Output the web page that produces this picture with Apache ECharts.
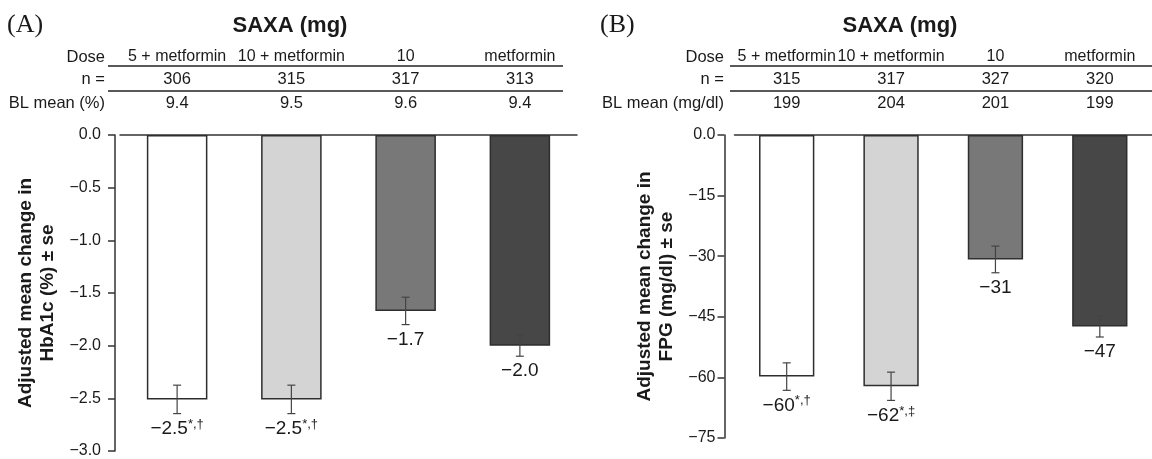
<!DOCTYPE html>
<html><head><meta charset="utf-8">
<script src="https://cdn.jsdelivr.net/npm/echarts@6/dist/echarts.min.js"></script>
<style>html,body{margin:0;padding:0;background:#fff}#c{width:1152px;height:459px}</style>
</head><body><div id="c"></div>
<script>
// ---- data ----
const doseLabels = ['5 + metformin', '10 + metformin', '10', 'metformin'];
const nA = ['306', '315', '317', '313'];
const blA = ['9.4', '9.5', '9.6', '9.4'];
const hba1cMean = [-2.51, -2.51, -1.67, -2.00];
const hba1cSE = [0.135, 0.135, 0.13, 0.10];
const hba1cLabel = ['\u22122.5', '\u22122.5', '\u22121.7', '\u22122.0'];
const hba1cMark = ['*,\u2020', '*,\u2020', '', ''];
const nB = ['315', '317', '327', '320'];
const blB = ['199', '204', '201', '199'];
const fpgMean = [-59.8, -62.2, -30.8, -47.4];
const fpgSE = [3.4, 3.5, 3.3, 2.6];
const fpgLabel = ['\u221260', '\u221262', '\u221231', '\u221247'];
const fpgMark = ['*,\u2020', '*,\u2021', '', ''];
const yTicksA = { min: -3, max: 0, interval: 0.5 };
const yTicksB = { min: -75, max: 0, interval: 15 };
const barColors = ['#ffffff', '#d4d4d4', '#787878', '#474747'];

const F = "'Liberation Sans', Arial, sans-serif";
const TXT = '#1a1a1a';
const chart = echarts.init(document.getElementById('c'), null, { renderer: 'canvas' });

const grids = [
  { left: 120, top: 135, width: 457, height: 317 },
  { left: 734.5, top: 135, width: 436, height: 303 }
];
const rowY = { dose: 57, n: 79.5, bl: 103 };

function headerAxis(gi, labels, y, fs) {
  return {
    type: 'category', gridIndex: gi, position: 'top', data: labels,
    offset: grids[gi].top - y,
    axisLine: { show: false }, axisTick: { show: false },
    axisLabel: { interval: 0, margin: 0, verticalAlign: 'middle', fontFamily: F, fontSize: fs, color: TXT }
  };
}
function mainX(gi) {
  return {
    type: 'category', gridIndex: gi, position: 'top', data: doseLabels,
    axisLine: { onZero: false, lineStyle: { color: '#333', width: 1.5 } },
    axisTick: { inside: true, length: 6, interval: 0, lineStyle: { color: '#333', width: 1.5 } },
    axisLabel: { show: false }
  };
}
function yAx(gi, t, fmt, name, gap, off, margin) {
  return {
    type: 'value', gridIndex: gi, min: t.min, max: t.max, interval: t.interval,
    offset: off,
    name: name, nameLocation: 'middle', nameGap: gap, nameRotate: 90,
    nameTextStyle: { fontFamily: F, fontSize: 19, fontWeight: 'bold', color: TXT, lineHeight: 22 },
    axisLine: { show: true, lineStyle: { color: '#333', width: 1.5 } },
    axisTick: { show: true, length: 7, lineStyle: { color: '#333', width: 1.5 } },
    splitLine: { show: false },
    axisLabel: { formatter: fmt, fontFamily: F, fontSize: 16, color: TXT, margin: margin }
  };
}
const fmtA = v => v === 0 ? '0.0' : v.toFixed(1).replace('-', '\u2212');
const fmtB = v => v === 0 ? '0.0' : String(v).replace('-', '\u2212');

function barSeries(gi, means) {
  return {
    type: 'bar', xAxisIndex: gi * 4, yAxisIndex: gi, barWidth: '53%',
    data: means.map((m, i) => ({ value: m, itemStyle: { color: barColors[i] } })),
    itemStyle: { borderColor: '#2e2e2e', borderWidth: 1.5 },
    animation: false, silent: true
  };
}
function errSeries(gi, means, ses, labels, marks) {
  return {
    type: 'custom', xAxisIndex: gi * 4, yAxisIndex: gi, animation: false, silent: true, z: 5,
    data: means.map((m, i) => [i, m, ses[i]]),
    renderItem: function (params, api) {
      const i = api.value(0), m = api.value(1), se = api.value(2);
      const top = api.coord([i, m + se]);
      const bot = api.coord([i, m - se]);
      const c = 4;
      const st = { stroke: '#444', lineWidth: 1.2 };
      const mk = marks[i] ? '{s|' + marks[i] + '}' : '';
      return {
        type: 'group', children: [
          { type: 'line', shape: { x1: top[0], y1: top[1], x2: bot[0], y2: bot[1] }, style: st },
          { type: 'line', shape: { x1: top[0] - c, y1: top[1], x2: top[0] + c, y2: top[1] }, style: st },
          { type: 'line', shape: { x1: bot[0] - c, y1: bot[1], x2: bot[0] + c, y2: bot[1] }, style: st },
          { type: 'text', x: bot[0], y: bot[1] + 15, style: {
              text: '{v|' + labels[i] + '}' + mk, align: 'center', verticalAlign: 'middle',
              rich: {
                v: { fontFamily: F, fontSize: 19, fill: TXT, lineHeight: 22 },
                s: { fontFamily: F, fontSize: 13, fill: TXT, verticalAlign: 'top', lineHeight: 22 }
              }
            } }
        ]
      };
    }
  };
}

const option = {
  backgroundColor: '#fff',
  animation: false,
  grid: grids,
  xAxis: [
    mainX(0), headerAxis(0, doseLabels, rowY.dose, 16), headerAxis(0, nA, rowY.n, 16.5), headerAxis(0, blA, rowY.bl, 16.5),
    mainX(1), headerAxis(1, doseLabels, rowY.dose, 16), headerAxis(1, nB, rowY.n, 16.5), headerAxis(1, blB, rowY.bl, 16.5)
  ],
  yAxis: [
    yAx(0, yTicksA, fmtA, 'Adjusted mean change in\nHbA1c (%) \u00b1 se', 56, 5, 14),
    yAx(1, yTicksB, fmtB, 'Adjusted mean change in\nFPG (mg/dl) \u00b1 se', 47, 10, 9)
  ],
  series: [
    barSeries(0, hba1cMean), errSeries(0, hba1cMean, hba1cSE, hba1cLabel, hba1cMark),
    barSeries(1, fpgMean), errSeries(1, fpgMean, fpgSE, fpgLabel, fpgMark)
  ]
};
chart.setOption(option);

// header decorations: panel letters, titles, row labels, rules
const g = [];
const panels = [
  { letter: '(A)', lx: 7, titleX: 290, rowX: 105, ruleX1: 108, ruleX2: 563, bl: 'BL mean (%)' },
  { letter: '(B)', lx: 600, titleX: 900, rowX: 724, ruleX1: 730, ruleX2: 1152, bl: 'BL mean (mg/dl)' }
];
panels.forEach(p => {
  g.push({ type: 'text', x: p.lx, y: 25, style: { text: p.letter, verticalAlign: 'middle', font: "26px 'Liberation Serif', 'Times New Roman', serif", fill: TXT } });
  g.push({ type: 'text', x: p.titleX, y: 26, style: { text: 'SAXA (mg)', align: 'center', verticalAlign: 'middle', font: "bold 22px " + F, fill: TXT } });
  [['Dose', rowY.dose], ['n =', rowY.n], [p.bl, rowY.bl]].forEach(r => {
    g.push({ type: 'text', x: p.rowX, y: r[1], style: { text: r[0], align: 'right', verticalAlign: 'middle', font: "16.5px " + F, fill: TXT } });
  });
  [66, 91].forEach(y => {
    g.push({ type: 'line', shape: { x1: p.ruleX1, y1: y, x2: p.ruleX2, y2: y }, style: { stroke: '#222', lineWidth: 1.5 } });
  });
});
chart.setOption({ graphic: g });
</script></body></html>
